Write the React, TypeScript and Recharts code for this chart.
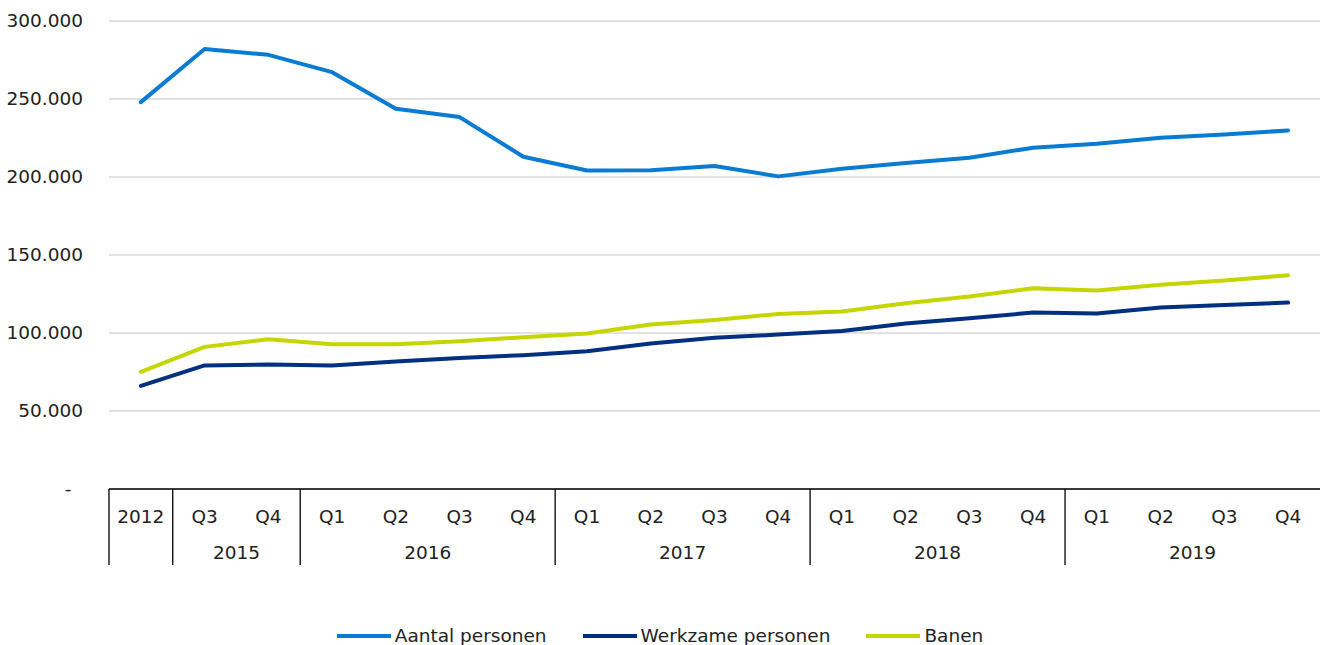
import { LineChart, Line, XAxis, YAxis, CartesianGrid, Legend } from "recharts";

const quarters = ["2012", "Q3", "Q4", "Q1", "Q2", "Q3", "Q4", "Q1", "Q2", "Q3", "Q4", "Q1", "Q2", "Q3", "Q4", "Q1", "Q2", "Q3", "Q4"];
const years = ["", "2015", "2015", "2016", "2016", "2016", "2016", "2017", "2017", "2017", "2017", "2018", "2018", "2018", "2018", "2019", "2019", "2019", "2019"];

const aantal = [248000, 282100, 278300, 267200, 243700, 238400, 213000, 204200, 204400, 207000, 200400, 205300, 209000, 212400, 218800, 221300, 225200, 227300, 229800];
const werkzame = [66100, 79200, 79800, 79200, 81750, 83900, 85800, 88350, 93300, 96900, 99000, 101300, 106100, 109500, 113100, 112500, 116300, 118000, 119500];
const banen = [75100, 91100, 96000, 92800, 92800, 94750, 97300, 99700, 105400, 108400, 112200, 113800, 119100, 123400, 128700, 127200, 131000, 133600, 137000];

const yTicks = [0, 50000, 100000, 150000, 200000, 250000, 300000];

const series = [
  { key: "aantal", name: "Aantal personen", color: "#0A7BD3" },
  { key: "werkzame", name: "Werkzame personen", color: "#00307F" },
  { key: "banen", name: "Banen", color: "#C5D500" },
];

const data = quarters.map((q, i) => ({
  id: `${years[i]}-${q}-${i}`,
  aantal: aantal[i],
  werkzame: werkzame[i],
  banen: banen[i],
}));

const W = 1320;
const H = 645;
const Y_AXIS_W = 109;
const PLOT_W = W - Y_AXIS_W;
const FONT = "'DejaVu Sans', Verdana, sans-serif";
const FS = 18.5;
const TEXT = "#222";

const fmt = (v: number) => v.toString().replace(/\B(?=(\d{3})+(?!\d))/g, ".");

function YTick(props: any) {
  const { x, y, payload } = props;
  if (payload.value === 0) {
    return (
      <text x={x - 41} y={y} dy={6} textAnchor="middle" fontSize={FS} fill={TEXT} fontFamily={FONT}>
        -
      </text>
    );
  }
  return (
    <text x={x - 26} y={y} dy={6} textAnchor="end" fontSize={FS} fill={TEXT} fontFamily={FONT}>
      {fmt(payload.value)}
    </text>
  );
}

function XTick(props: any) {
  const { x, y, payload } = props;
  const i = payload.index;
  const band = PLOT_W / quarters.length;
  const newGroup = i === 0 || years[i] !== years[i - 1];
  let yearLabel = null;
  if (newGroup && years[i] !== "") {
    const n = years.filter((v) => v === years[i]).length;
    yearLabel = (
      <text x={x + ((n - 1) / 2) * band} y={y + 70} textAnchor="middle" fontSize={FS} fill={TEXT} fontFamily={FONT}>
        {years[i]}
      </text>
    );
  }
  return (
    <g>
      {newGroup && <line x1={x - band / 2} x2={x - band / 2} y1={y} y2={y + 76} stroke="#000" strokeWidth={1.3} />}
      <text x={x} y={y + 34} textAnchor="middle" fontSize={FS} fill={TEXT} fontFamily={FONT}>
        {quarters[i]}
      </text>
      {yearLabel}
    </g>
  );
}

function LegendContent() {
  return (
    <div
      style={{
        display: "flex",
        justifyContent: "center",
        alignItems: "center",
        paddingTop: 60,
        gap: 36,
        fontFamily: FONT,
        fontSize: FS,
        lineHeight: "22px",
        color: TEXT,
        whiteSpace: "nowrap",
      }}
    >
      {series.map((s) => (
        <div key={s.key} style={{ display: "flex", alignItems: "center" }}>
          <svg width={54} height={6} style={{ marginRight: 4 }}>
            <line x1={0} x2={54} y1={3} y2={3} stroke={s.color} strokeWidth={4} />
          </svg>
          <span>{s.name}</span>
        </div>
      ))}
    </div>
  );
}

export default function App() {
  return (
    <div style={{ position: "absolute", left: 0, top: 0, background: "#fff" }}>
      <LineChart width={W} height={H} data={data} margin={{ top: 21, right: 0, bottom: 0, left: 0 }}>
        <CartesianGrid vertical={false} stroke="#d9d9d9" strokeWidth={1.5} />
        <XAxis
          dataKey="id"
          scale="band"
          interval={0}
          height={76}
          tickSize={0}
          tickMargin={0}
          tickLine={false}
          axisLine={{ stroke: "#000", strokeWidth: 1.3 }}
          tick={<XTick />}
        />
        <YAxis
          width={Y_AXIS_W}
          domain={[0, 300000]}
          ticks={yTicks}
          interval={0}
          tickSize={0}
          tickMargin={0}
          axisLine={false}
          tickLine={false}
          tick={<YTick />}
        />
        <Legend verticalAlign="bottom" wrapperStyle={{ height: 80, width: W, left: 0 }} content={<LegendContent />} />
        {series.map((s) => (
          <Line
            key={s.key}
            type="linear"
            dataKey={s.key}
            name={s.name}
            stroke={s.color}
            strokeWidth={4}
            dot={false}
            activeDot={false}
            strokeLinecap="round"
            strokeLinejoin="round"
            isAnimationActive={false}
          />
        ))}
      </LineChart>
    </div>
  );
}
